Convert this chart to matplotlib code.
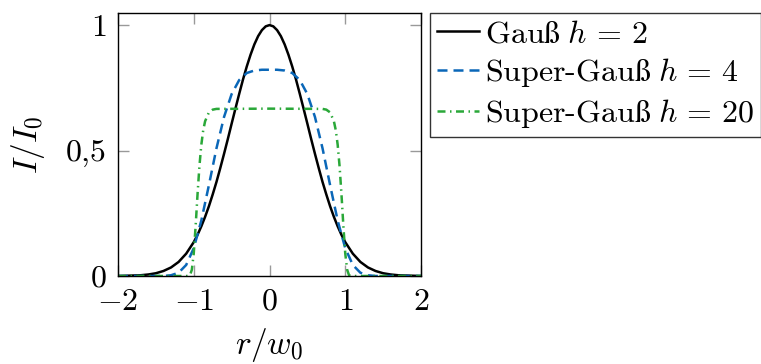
import numpy as np
import matplotlib
matplotlib.use("Agg")
import matplotlib.pyplot as plt

plt.rcParams['font.family'] = ['cmr10', 'DejaVu Serif']
plt.rcParams['mathtext.fontset'] = 'cm'
plt.rcParams['axes.unicode_minus'] = False

# ---- data ----
r_gauss = [-2.0, -1.9, -1.8, -1.7, -1.6, -1.5, -1.4, -1.3, -1.2, -1.1,
           -1.0, -0.95, -0.9, -0.85, -0.8, -0.75, -0.7, -0.65, -0.6, -0.55,
           -0.5, -0.45, -0.4, -0.35, -0.3, -0.25, -0.2, -0.15, -0.1, -0.05,
           0.0,
           0.05, 0.1, 0.15, 0.2, 0.25, 0.3, 0.35, 0.4, 0.45, 0.5,
           0.55, 0.6, 0.65, 0.7, 0.75, 0.8, 0.85, 0.9, 0.95, 1.0,
           1.1, 1.2, 1.3, 1.4, 1.5, 1.6, 1.7, 1.8, 1.9, 2.0]
gauss_h2 = [0.000, 0.001, 0.002, 0.003, 0.006, 0.011, 0.020, 0.034, 0.056, 0.089,
            0.135, 0.164, 0.198, 0.236, 0.278, 0.325, 0.375, 0.430, 0.487, 0.546,
            0.607, 0.667, 0.726, 0.783, 0.835, 0.882, 0.923, 0.956, 0.980, 0.995,
            1.000,
            0.995, 0.980, 0.956, 0.923, 0.882, 0.835, 0.783, 0.726, 0.667, 0.607,
            0.546, 0.487, 0.430, 0.375, 0.325, 0.278, 0.236, 0.198, 0.164, 0.135,
            0.089, 0.056, 0.034, 0.020, 0.011, 0.006, 0.003, 0.002, 0.001, 0.000]
r_h4 = [-2.0, -1.9, -1.8, -1.7, -1.6, -1.5, -1.4, -1.3, -1.2, -1.1,
        -1.0, -0.9, -0.8, -0.7, -0.6, -0.5, -0.4, -0.3, -0.2, -0.1,
        0.0,
        0.1, 0.2, 0.3, 0.4, 0.5, 0.6, 0.7, 0.8, 0.9, 1.0,
        1.1, 1.2, 1.3, 1.4, 1.5, 1.6, 1.7, 1.8, 1.9, 2.0]
super_h4 = [0.000, 0.000, 0.000, 0.000, 0.000, 0.000, 0.000, 0.003, 0.013, 0.044,
            0.111, 0.221, 0.362, 0.509, 0.634, 0.725, 0.781, 0.809, 0.819, 0.822,
            0.822,
            0.822, 0.819, 0.809, 0.781, 0.725, 0.634, 0.509, 0.362, 0.221, 0.111,
            0.044, 0.013, 0.003, 0.000, 0.000, 0.000, 0.000, 0.000, 0.000, 0.000]
r_h20 = [-2.0, -1.1, -1.075, -1.05, -1.025, -1.0, -0.975, -0.95, -0.925, -0.9,
         -0.875, -0.85, -0.8, -0.75, -0.7, 0.0,
         0.7, 0.75, 0.8, 0.85, 0.875, 0.9, 0.925, 0.95, 0.975, 1.0,
         1.025, 1.05, 1.075, 1.1, 2.0]
super_h20 = [0.000, 0.000, 0.000, 0.003, 0.025, 0.090, 0.200, 0.326, 0.438, 0.523,
             0.581, 0.617, 0.652, 0.663, 0.666, 0.667,
             0.666, 0.663, 0.652, 0.617, 0.581, 0.523, 0.438, 0.326, 0.200, 0.090,
             0.025, 0.003, 0.000, 0.000, 0.000]

labels = [r'Gau$\mathrm{ß}\;h\,=\,2$',
          r'Super-Gau$\mathrm{ß}\;h\,=\,4$',
          r'Super-Gau$\mathrm{ß}\;h\,=\,20$']
x_ticks = [-2, -1, 0, 1, 2]
x_ticklabels = ['$-2$', '$-1$', '$0$', '$1$', '$2$']
y_ticks = [0, 0.5, 1]
y_ticklabels = ['0', '0,5', '1']

# ---- figure ----
W, H = 761, 364
fig = plt.figure(figsize=(W / 100, H / 100), dpi=100)
ax = fig.add_axes([118 / W, 1 - 276 / H, (421 - 118) / W, (276 - 13.3) / H])

lw = 1.8
ax.plot(r_gauss, gauss_h2, color='black', lw=lw, label=labels[0])
ax.plot(r_h4, super_h4, color='#0a67b8', lw=lw, linestyle=(0, (4.0, 2.4)), label=labels[1])
ax.plot(r_h20, super_h20, color='#2aa839', lw=lw, linestyle=(0, (3.2, 1.8, 0.6, 1.8)), label=labels[2])

ax.set_xlim(-2, 2)
ax.set_ylim(0, 1.047)
ax.set_xticks(x_ticks)
ax.set_xticklabels(x_ticklabels)
ax.set_yticks(y_ticks)
ax.set_yticklabels(y_ticklabels)

fs = 23
ax.tick_params(direction='in', length=8, width=1.0, color='#999999', labelsize=fs,
               top=True, right=True)
ax.tick_params(axis='x', pad=9)
ax.tick_params(axis='y', pad=8)
for s in ax.spines.values():
    s.set_linewidth(1.0)
    s.set_color('black')

ax.set_xlabel('$r/w_0$', fontsize=fs + 1, labelpad=7)
ax.set_ylabel('$I/I_0$', fontsize=fs + 1, labelpad=14)

leg = fig.legend(loc='upper left', bbox_to_anchor=(430 / W, 1 - 13 / H), borderaxespad=0,
                 fontsize=23, frameon=True, fancybox=False, edgecolor='black',
                 handlelength=1.3, handletextpad=0.2, labelspacing=0.25,
                 borderpad=0.22)
leg.get_frame().set_linewidth(1.0)

fig.savefig('out.png', dpi=100)
